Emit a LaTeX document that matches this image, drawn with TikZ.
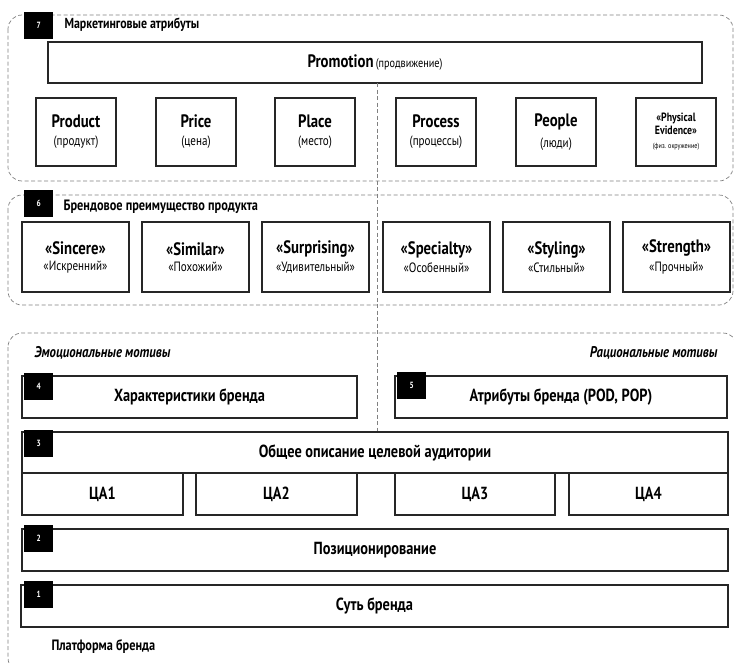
\documentclass[tikz,border=0pt]{standalone}
\usepackage{fontspec}
\setmainfont{PT Sans}[FakeStretch=0.82]
\newcommand{\boxtitle}[1]{{\fontsize{18}{20}\selectfont\bfseries #1}}
\newcommand{\boxsub}[1]{{\fontsize{13.5}{15}\selectfont #1}}
\begin{document}
\begin{tikzpicture}[
        x=1pt, y=-1pt,
        group/.style={draw=black!50, dash pattern=on 4pt off 2.5pt, rounded corners=14pt, line width=0.7pt},
        divider/.style={draw=black!50, dash pattern=on 4pt off 2.5pt, line width=0.7pt},
        box/.style={
            draw=black!85,
            line width=1.3pt,
            fill=white,
            align=center,
            inner sep=2pt
        },
        tag/.style={
            fill=black, text=white,
            font=\fontsize{9}{9}\selectfont\bfseries,
            minimum width=29pt, minimum height=27pt,
            inner sep=0pt, anchor=north west
        },
        heading/.style={font=\fontsize{15}{17}\selectfont\bfseries, anchor=west},
        motive/.style={font=\fontsize{15.5}{17}\selectfont\bfseries\itshape},
        bar/.style={box, font=\fontsize{17.5}{19}\selectfont\bfseries, minimum height=42pt}
    ]
        \useasboundingbox (0,0) rectangle (734,664);

        % dashed groups
        \draw[group] (8,15) rectangle (733,181);
        \draw[group] (8,195) rectangle (733,305);
        \begin{scope}
            \clip (0,0) rectangle (734,664);
            \draw[group] (8,333) rectangle (737,672);
        \end{scope}

        % 7: marketing attributes
        \node[tag] (tag7) at (24,12) {7};
        \node[heading, font=\fontsize{14.5}{16}\selectfont\bfseries] (marketing) at (61,25) {Маркетинговые атрибуты};
        \node[box, minimum width=654pt, minimum height=41pt] (promo) at (375,62.5)
            {\boxtitle{Promotion} {\fontsize{12.5}{14}\selectfont (продвижение)}};
        \node[box, minimum width=80pt, minimum height=68pt] (product) at (76,132) {\boxtitle{Product}\\[6pt]\boxsub{(продукт)}};
        \node[box, minimum width=80pt, minimum height=68pt] (price) at (196,132) {\boxtitle{Price}\\[6pt]\boxsub{(цена)}};
        \node[box, minimum width=80pt, minimum height=68pt] (place) at (315,132) {\boxtitle{Place}\\[6pt]\boxsub{(место)}};
        \node[box, minimum width=80pt, minimum height=68pt] (process) at (436,132) {\boxtitle{Process}\\[6pt]\boxsub{(процессы)}};
        \node[box, minimum width=80pt, minimum height=68pt] (people) at (556,132) {\boxtitle{People}\\[6pt]\boxsub{(люди)}};
        \node[box, minimum width=80pt, minimum height=68pt, font=\fontsize{12}{13}\selectfont\bfseries] (evidence) at (676,132)
            {«Physical\\Evidence»\\[1pt]{\fontsize{7.5}{9}\selectfont\mdseries (физ. окружение)}};

        % 6: brand advantage
        \node[tag] (tag6) at (24,190) {6};
        \node[heading] (advantage) at (60,207) {Брендовое преимущество продукта};
        \node[box, minimum width=107pt, minimum height=70pt] (sincere) at (75.5,257) {\boxtitle{«Sincere»}\\[4pt]\boxsub{«Искренний»}};
        \node[box, minimum width=107pt, minimum height=70pt] (similar) at (195.5,257) {\boxtitle{«Similar»}\\[4pt]\boxsub{«Похожий»}};
        \node[box, minimum width=107pt, minimum height=70pt] (surprising) at (315.5,257) {\boxtitle{«Surprising»}\\[4pt]\boxsub{«Удивительный»}};
        \node[box, minimum width=107pt, minimum height=70pt] (specialty) at (436.5,257) {\boxtitle{«Specialty»}\\[4pt]\boxsub{«Особенный»}};
        \node[box, minimum width=107pt, minimum height=70pt] (styling) at (556.5,257) {\boxtitle{«Styling»}\\[4pt]\boxsub{«Стильный»}};
        \node[box, minimum width=107pt, minimum height=70pt] (strength) at (676.5,257) {\boxtitle{«Strength»}\\[4pt]\boxsub{«Прочный»}};

        % brand platform
        \node[motive, anchor=west] (emotional) at (31,353) {Эмоциональные мотивы};
        \node[motive, anchor=east] (rational) at (721,353) {Рациональные мотивы};
        \node[bar, minimum width=335pt] (brandchar) at (189.5,397) {Характеристики бренда};
        \node[bar, minimum width=332pt] (brandattr) at (561,397) {Атрибуты бренда (POD, POP)};
        \node[bar, minimum width=706pt, minimum height=41pt] (audience) at (375,452.5) {Общее описание целевой аудитории};
        \node[bar, minimum width=161pt] (ta1) at (102.5,494) {ЦА1};
        \node[bar, minimum width=161pt] (ta2) at (276.5,494) {ЦА2};
        \node[bar, minimum width=160pt] (ta3) at (475,494) {ЦА3};
        \node[bar, minimum width=159pt] (ta4) at (648.5,494) {ЦА4};
        \node[bar, minimum width=706pt] (positioning) at (375,550) {Позиционирование};
        \node[bar, minimum width=707pt] (essence) at (374.5,606) {Суть бренда};
        \node[tag] (tag4) at (24,373) {4};
        \node[tag] (tag5) at (397,372) {5};
        \node[tag] (tag3) at (24,430) {3};
        \node[tag] (tag2) at (24,525) {2};
        \node[tag] (tag1) at (24,581) {1};
        \node[heading] (platform) at (48,647) {Платформа бренда};

        % emotional / rational divider
        \coordinate (divtop) at (377,83);
        \draw[divider] (divtop) -- (divtop |- audience.north);
    \end{tikzpicture}
\end{document}
